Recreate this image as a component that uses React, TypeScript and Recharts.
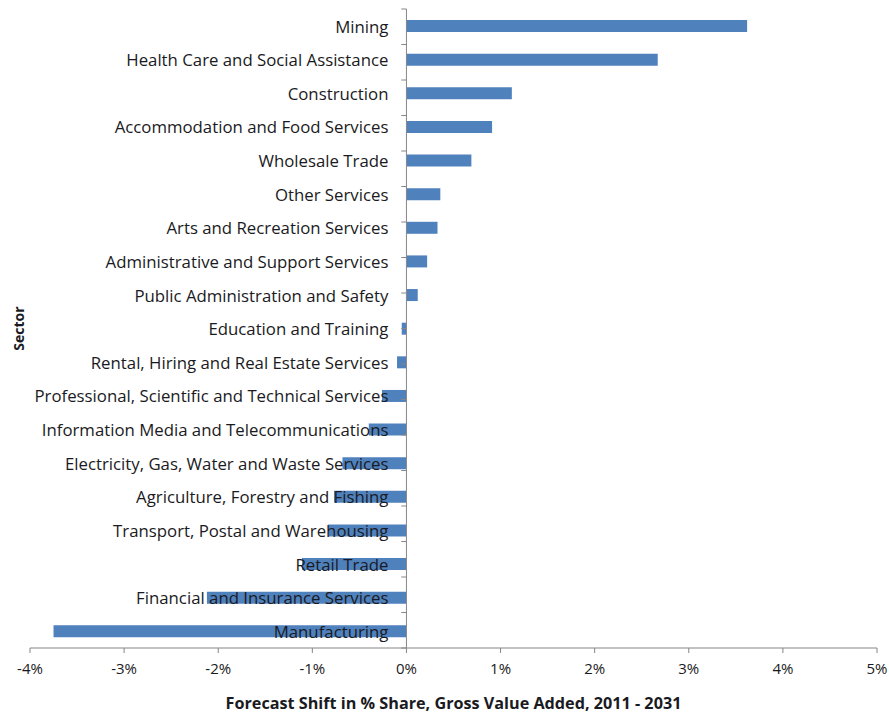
import React from 'react';
import { BarChart, Bar, XAxis, YAxis, ReferenceLine, LabelList } from 'recharts';

const sectors = [
  'Mining',
  'Health Care and Social Assistance',
  'Construction',
  'Accommodation and Food Services',
  'Wholesale Trade',
  'Other Services',
  'Arts and Recreation Services',
  'Administrative and Support Services',
  'Public Administration and Safety',
  'Education and Training',
  'Rental, Hiring and Real Estate Services',
  'Professional, Scientific and Technical Services',
  'Information Media and Telecommunications',
  'Electricity, Gas, Water and Waste Services',
  'Agriculture, Forestry and Fishing',
  'Transport, Postal and Warehousing',
  'Retail Trade',
  'Financial and Insurance Services',
  'Manufacturing',
];

const shares = [
  3.62, 2.67, 1.12, 0.91, 0.69, 0.36, 0.33, 0.22, 0.12, -0.05, -0.1, -0.26, -0.4, -0.68, -0.77, -0.83,
  -1.11, -2.12, -3.75,
];

const xTicks = [-4, -3, -2, -1, 0, 1, 2, 3, 4, 5];

const data = sectors.map((sector, i) => ({ sector, share: shares[i] }));
const boundaries = Array.from({ length: sectors.length + 1 }, (_, i) => i);

const FONT = '"Open Sans", Lato, sans-serif';
const AXIS = '#868686';
const TEXT = '#1a1a22';

const SectorLabel = (props: any) => {
  const vb = props.viewBox || {};
  const x = Number(vb.x ?? props.x);
  const w = Number(vb.width ?? props.width);
  const y = Number(vb.y ?? props.y);
  const h = Number(vb.height ?? props.height);
  const idx = sectors.indexOf(props.value);
  const v = idx >= 0 ? shares[idx] : 0;
  const zero = v >= 0 ? Math.min(x, x + w) : Math.max(x, x + w);
  return (
    <text
      x={zero - 18}
      y={y + h / 2}
      textAnchor="end"
      dominantBaseline="central"
      fill={TEXT}
      fontSize={16.8}
      fontFamily={FONT}
    >
      {props.value}
    </text>
  );
};

export default function App() {
  return (
    <div style={{ position: 'absolute', left: 8, top: 8, width: 881, height: 708, background: '#fff' }}>
      <style>
        {'html { overflow: hidden; } .recharts-wrapper, svg.recharts-surface { overflow: visible !important; }'}
      </style>
      <BarChart
        width={881}
        height={708}
        data={data}
        layout="vertical"
        margin={{ top: 1, right: 12, left: 0, bottom: 0 }}
      >
        <XAxis
          type="number"
          dataKey="share"
          domain={[-4, 5]}
          ticks={xTicks}
          tickFormatter={(v: number) => `${v}%`}
          allowDataOverflow
          height={68}
          stroke={AXIS}
          tickSize={5}
          tickMargin={10}
          tick={{ fill: TEXT, fontSize: 15, fontFamily: FONT }}
          label={{
            value: 'Forecast Shift in % Share, Gross Value Added, 2011 - 2031',
            position: 'insideBottom',
            offset: 7,
            fill: TEXT,
            fontSize: 16.2,
            fontWeight: 'bold',
            fontFamily: FONT,
          }}
        />
        <YAxis
          yAxisId="cat"
          type="category"
          dataKey="sector"
          width={22}
          tick={false}
          tickLine={false}
          axisLine={false}
          label={{
            value: 'Sector',
            angle: -90,
            position: 'center',
            fill: TEXT,
            fontSize: 14,
            fontWeight: 'bold',
            fontFamily: FONT,
          }}
        />
        <YAxis yAxisId="num" type="number" domain={[0, sectors.length]} hide />
        <Bar yAxisId="cat" dataKey="share" fill="#4F81BD" barSize={12} isAnimationActive={false}>
          <LabelList dataKey="sector" content={SectorLabel} />
        </Bar>
        <ReferenceLine yAxisId="cat" x={0} stroke={AXIS} strokeWidth={1} />
        {boundaries.map((b) => (
          <ReferenceLine
            key={b}
            yAxisId="num"
            segment={[
              { x: -0.055, y: b },
              { x: 0, y: b },
            ]}
            stroke={AXIS}
            strokeWidth={1}
          />
        ))}
      </BarChart>
    </div>
  );
}
